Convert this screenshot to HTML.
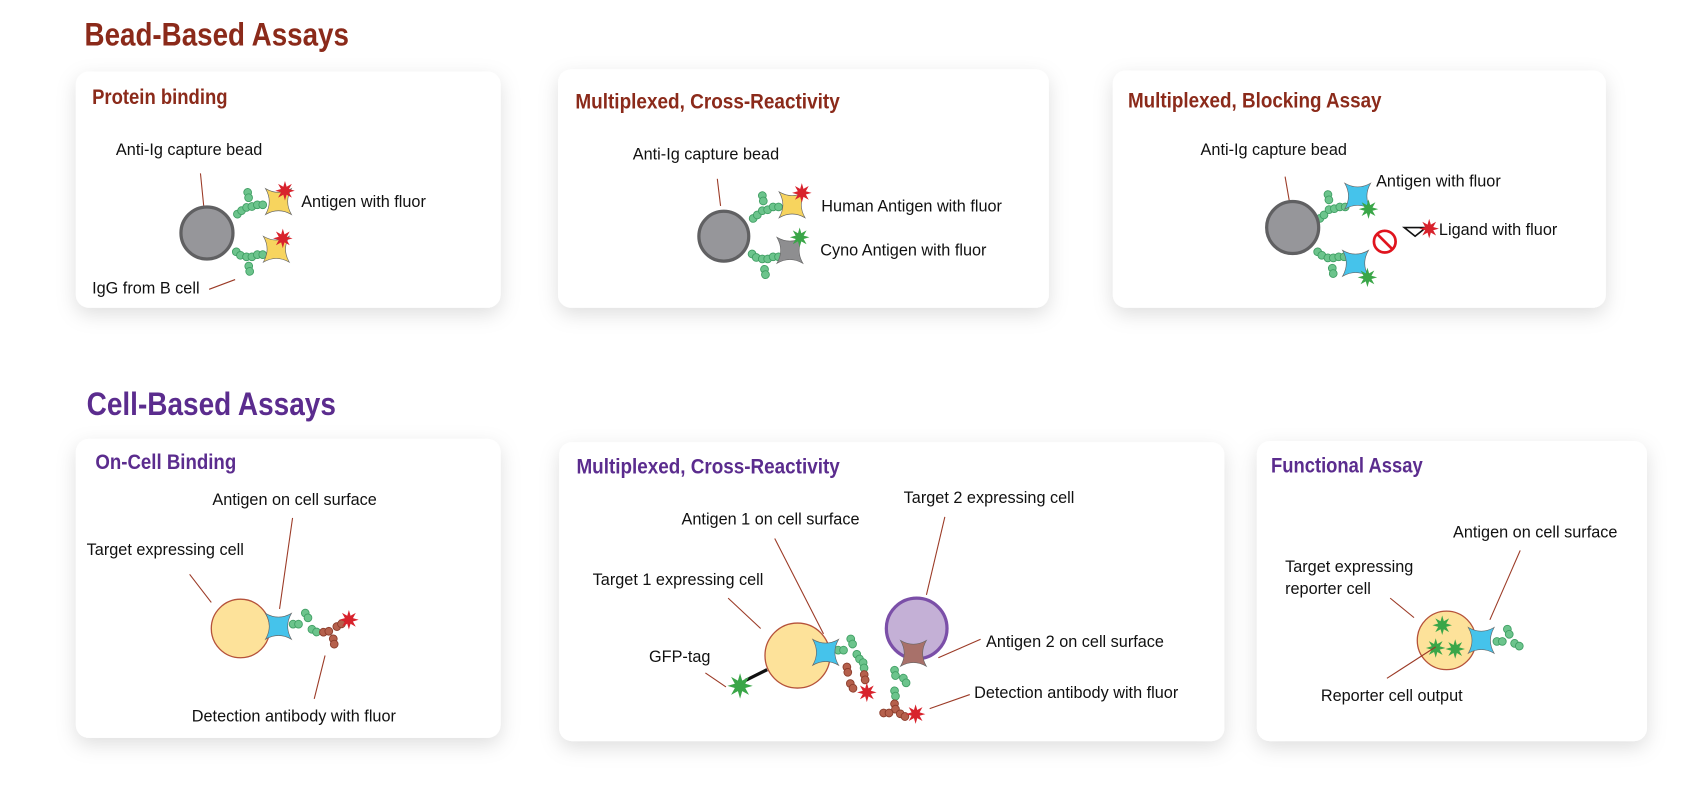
<!DOCTYPE html>
<html><head><meta charset="utf-8"><style>
html,body{margin:0;padding:0;background:#fff;}
svg{display:block;}
.t{font-family:"Liberation Sans",sans-serif;font-size:15px;fill:#111;}
.h{font-family:"Liberation Sans Narrow","Liberation Sans",sans-serif;font-weight:bold;}
.ln{stroke:#9b3a26;stroke-width:1;fill:none;}
</style></head><body>
<svg width="1699" height="800" viewBox="0 0 1568 738.3" xmlns="http://www.w3.org/2000/svg">
<defs>
<filter id="sh" x="-20%" y="-20%" width="140%" height="150%"><feDropShadow dx="0" dy="6" stdDeviation="9" flood-color="#000" flood-opacity="0.13"/></filter>
<path id="ag" d="M-12,-12 Q0,-5 12,-12 Q5,0 12,12 Q0,5 -12,12 Q-5,0 -12,-12Z" stroke="#666" stroke-width="0.6"/>
<path id="st" d="M9,0 L3.7,1.53 L6.36,6.36 L1.53,3.7 L0,9 L-1.53,3.7 L-6.36,6.36 L-3.7,1.53 L-9,0 L-3.7,-1.53 L-6.36,-6.36 L-1.53,-3.7 L0,-9 L1.53,-3.7 L6.36,-6.36 L3.7,-1.53Z"/>
<g id="g"><circle cx="-2.5" cy="0" r="3.6" fill="#6cc48c" stroke="#3f9e63" stroke-width="0.8"/><circle cx="2.5" cy="0" r="3.6" fill="#6cc48c" stroke="#3f9e63" stroke-width="0.8"/></g>
<g id="b"><circle cx="-2.5" cy="0" r="3.6" fill="#b5604c" stroke="#8a3b2a" stroke-width="0.8"/><circle cx="2.5" cy="0" r="3.6" fill="#b5604c" stroke="#8a3b2a" stroke-width="0.8"/></g>
</defs>

<text x="78" y="42" class="h" font-size="30" fill="#8b2a1a" textLength="244" lengthAdjust="spacingAndGlyphs">Bead-Based Assays</text>
<text x="80" y="383" class="h" font-size="30" fill="#5b2c8e" textLength="230" lengthAdjust="spacingAndGlyphs">Cell-Based Assays</text>

<g filter="url(#sh)" fill="#fff">
<rect x="70" y="66" width="392" height="218" rx="12"/>
<rect x="515" y="64" width="453" height="220" rx="12"/>
<rect x="1027" y="65" width="455" height="219" rx="12"/>
<rect x="70" y="405" width="392" height="276" rx="12"/>
<rect x="516" y="408" width="614" height="276" rx="12"/>
<rect x="1160" y="407" width="360" height="277" rx="12"/>
</g>

<g class="h" font-size="20" fill="#8b2a1a">
<text x="85" y="96" textLength="125" lengthAdjust="spacingAndGlyphs">Protein binding</text>
<text x="531" y="100" textLength="244" lengthAdjust="spacingAndGlyphs">Multiplexed, Cross-Reactivity</text>
<text x="1041" y="99" textLength="234" lengthAdjust="spacingAndGlyphs">Multiplexed, Blocking Assay</text>
</g>
<g class="h" font-size="20" fill="#5b2c8e">
<text x="88" y="433" textLength="130" lengthAdjust="spacingAndGlyphs">On-Cell Binding</text>
<text x="532" y="437" textLength="243" lengthAdjust="spacingAndGlyphs">Multiplexed, Cross-Reactivity</text>
<text x="1173" y="436" textLength="140" lengthAdjust="spacingAndGlyphs">Functional Assay</text>
</g>

<!-- C1 -->
<text x="107" y="143" class="t">Anti-Ig capture bead</text>
<line x1="185" y1="160" x2="188" y2="190" class="ln"/>
<use href="#g" transform="translate(221,196) rotate(-40)"/><use href="#g" transform="translate(230,191) rotate(-10)"/><use href="#g" transform="translate(240,189)"/><use href="#g" transform="translate(229,180) rotate(80)"/>
<use href="#g" transform="translate(220,234) rotate(40)"/><use href="#g" transform="translate(230,237)"/><use href="#g" transform="translate(240,235)"/><use href="#g" transform="translate(230,248) rotate(80)"/>
<circle cx="191" cy="215" r="24" fill="#96969a" stroke="#606062" stroke-width="3"/>
<use href="#ag" x="257" y="186" fill="#f7d45e"/><use href="#st" x="263" y="176" fill="#d8222c"/>
<use href="#ag" x="255" y="230" fill="#f7d45e"/><use href="#st" x="261" y="220" fill="#d8222c"/>
<text x="278" y="191" class="t">Antigen with fluor</text>
<text x="85" y="271" class="t">IgG from B cell</text>
<line x1="193" y1="267" x2="217" y2="258" class="ln"/>

<!-- C2 -->
<text x="584" y="147" class="t">Anti-Ig capture bead</text>
<line x1="662" y1="165" x2="665" y2="190" class="ln"/>
<use href="#g" transform="translate(697,200) rotate(-40)"/><use href="#g" transform="translate(706,194) rotate(-10)"/><use href="#g" transform="translate(716,191)"/><use href="#g" transform="translate(704,183) rotate(80)"/>
<use href="#g" transform="translate(696,236) rotate(40)"/><use href="#g" transform="translate(706,239)"/><use href="#g" transform="translate(716,237)"/><use href="#g" transform="translate(706,251) rotate(80)"/>
<circle cx="668" cy="218" r="23" fill="#96969a" stroke="#606062" stroke-width="3"/>
<use href="#ag" x="731" y="189" fill="#f7d45e"/><use href="#st" x="740" y="178" fill="#d8222c"/>
<use href="#ag" x="729" y="231" fill="#8e8e90"/><use href="#st" x="738" y="219" fill="#3aa648"/>
<text x="758" y="195" class="t">Human Antigen with fluor</text>
<text x="757" y="236" class="t">Cyno Antigen with fluor</text>

<!-- C3 -->
<text x="1108" y="143" class="t">Anti-Ig capture bead</text>
<line x1="1186" y1="163" x2="1190" y2="186" class="ln"/>
<use href="#g" transform="translate(1220,200) rotate(-40)"/><use href="#g" transform="translate(1229,193) rotate(-10)"/><use href="#g" transform="translate(1239,191)"/><use href="#g" transform="translate(1226,182) rotate(80)"/>
<use href="#g" transform="translate(1218,234) rotate(40)"/><use href="#g" transform="translate(1228,238)"/><use href="#g" transform="translate(1238,237)"/><use href="#g" transform="translate(1230,250) rotate(80)"/>
<circle cx="1193" cy="210" r="24" fill="#96969a" stroke="#606062" stroke-width="3"/>
<use href="#ag" x="1253" y="181" fill="#45c3eb"/><use href="#st" x="1263" y="193" fill="#3aa648"/>
<use href="#ag" x="1251" y="243" fill="#45c3eb"/><use href="#st" x="1262" y="256" fill="#3aa648"/>
<text x="1270" y="172" class="t">Antigen with fluor</text>
<circle cx="1278" cy="223" r="10" fill="none" stroke="#e0141e" stroke-width="2.5"/>
<line x1="1271" y1="216" x2="1285" y2="230" stroke="#e0141e" stroke-width="2.5"/>
<path d="M1296,210 L1316,210 L1306,218Z" fill="#fff" stroke="#111" stroke-width="1.5"/>
<use href="#st" x="1319" y="211" fill="#d8222c"/>
<text x="1328" y="217" class="t">Ligand with fluor</text>

<!-- C4 -->
<text x="196" y="466" class="t">Antigen on cell surface</text>
<line x1="270" y1="478" x2="258" y2="562" class="ln"/>
<text x="80" y="512" class="t">Target expressing cell</text>
<line x1="175" y1="530" x2="195" y2="556" class="ln"/>
<circle cx="222" cy="580" r="27" fill="#fde29a" stroke="#b5523a" stroke-width="1.2"/>
<use href="#g" transform="translate(273,576)"/><use href="#g" transform="translate(283,568) rotate(60)"/><use href="#g" transform="translate(290,582) rotate(30)"/>
<use href="#b" transform="translate(301,583) rotate(-10)"/><use href="#b" transform="translate(313,577) rotate(-30)"/><use href="#b" transform="translate(308,592) rotate(80)"/>
<use href="#ag" x="257" y="578" fill="#45c3eb"/>
<use href="#st" x="322" y="572" fill="#d8222c"/>
<text x="177" y="666" class="t">Detection antibody with fluor</text>
<line x1="290" y1="645" x2="300" y2="605" class="ln"/>

<!-- C5 -->
<text x="834" y="464" class="t">Target 2 expressing cell</text>
<line x1="872" y1="477" x2="855" y2="549" class="ln"/>
<text x="629" y="484" class="t">Antigen 1 on cell surface</text>
<line x1="715" y1="497" x2="760" y2="585" class="ln"/>
<text x="547" y="540" class="t">Target 1 expressing cell</text>
<line x1="672" y1="552" x2="702" y2="580" class="ln"/>
<text x="599" y="611" class="t">GFP-tag</text>
<line x1="651" y1="621" x2="670" y2="634" class="ln"/>
<line x1="688" y1="628" x2="708" y2="618" stroke="#111" stroke-width="3"/>
<use href="#st" transform="translate(683,633) scale(1.3)" fill="#3aa648"/>
<circle cx="736" cy="605" r="30" fill="#fde29a" stroke="#b5523a" stroke-width="1.2"/>
<use href="#g" transform="translate(776,600)"/><use href="#g" transform="translate(786,592) rotate(70)"/><use href="#g" transform="translate(792,606) rotate(60)"/><use href="#g" transform="translate(797,614) rotate(80)"/>
<use href="#b" transform="translate(782,618) rotate(80)"/><use href="#b" transform="translate(798,625) rotate(80)"/><use href="#b" transform="translate(786,633) rotate(60)"/>
<use href="#ag" x="762" y="602" fill="#45c3eb"/>
<use href="#st" x="800" y="639" fill="#d8222c"/>
<circle cx="846" cy="580" r="28" fill="#c4b0d6" stroke="#7b4fa8" stroke-width="3"/>
<use href="#g" transform="translate(826,621) rotate(80)"/><use href="#g" transform="translate(835,628) rotate(60)"/><use href="#g" transform="translate(826,640) rotate(80)"/>
<use href="#b" transform="translate(826,652) rotate(80)"/><use href="#b" transform="translate(818,658)"/><use href="#b" transform="translate(833,660) rotate(30)"/>
<use href="#ag" x="843" y="603" fill="#a8716a"/>
<use href="#st" x="845" y="659" fill="#d8222c"/>
<text x="910" y="597" class="t">Antigen 2 on cell surface</text>
<line x1="905" y1="590" x2="866" y2="607" class="ln"/>
<text x="899" y="644" class="t">Detection antibody with fluor</text>
<line x1="895" y1="641" x2="858" y2="654" class="ln"/>

<!-- C6 -->
<text x="1341" y="496" class="t">Antigen on cell surface</text>
<line x1="1403" y1="508" x2="1375" y2="572" class="ln"/>
<text x="1186" y="528" class="t">Target expressing</text>
<text x="1186" y="548" class="t">reporter cell</text>
<line x1="1283" y1="552" x2="1305" y2="570" class="ln"/>
<circle cx="1335" cy="591" r="27" fill="#fde29a" stroke="#b5523a" stroke-width="1.2"/>
<use href="#st" x="1331" y="577" fill="#3aa648"/><use href="#st" x="1325" y="598" fill="#3aa648"/><use href="#st" x="1343" y="599" fill="#3aa648"/>
<use href="#ag" x="1367" y="591" fill="#45c3eb"/>
<use href="#g" transform="translate(1384,592)"/><use href="#g" transform="translate(1392,583) rotate(70)"/><use href="#g" transform="translate(1400,595) rotate(30)"/>
<text x="1219" y="647" class="t">Reporter cell output</text>
<line x1="1280" y1="626" x2="1325" y2="597" class="ln"/>
</svg>
</body></html>
